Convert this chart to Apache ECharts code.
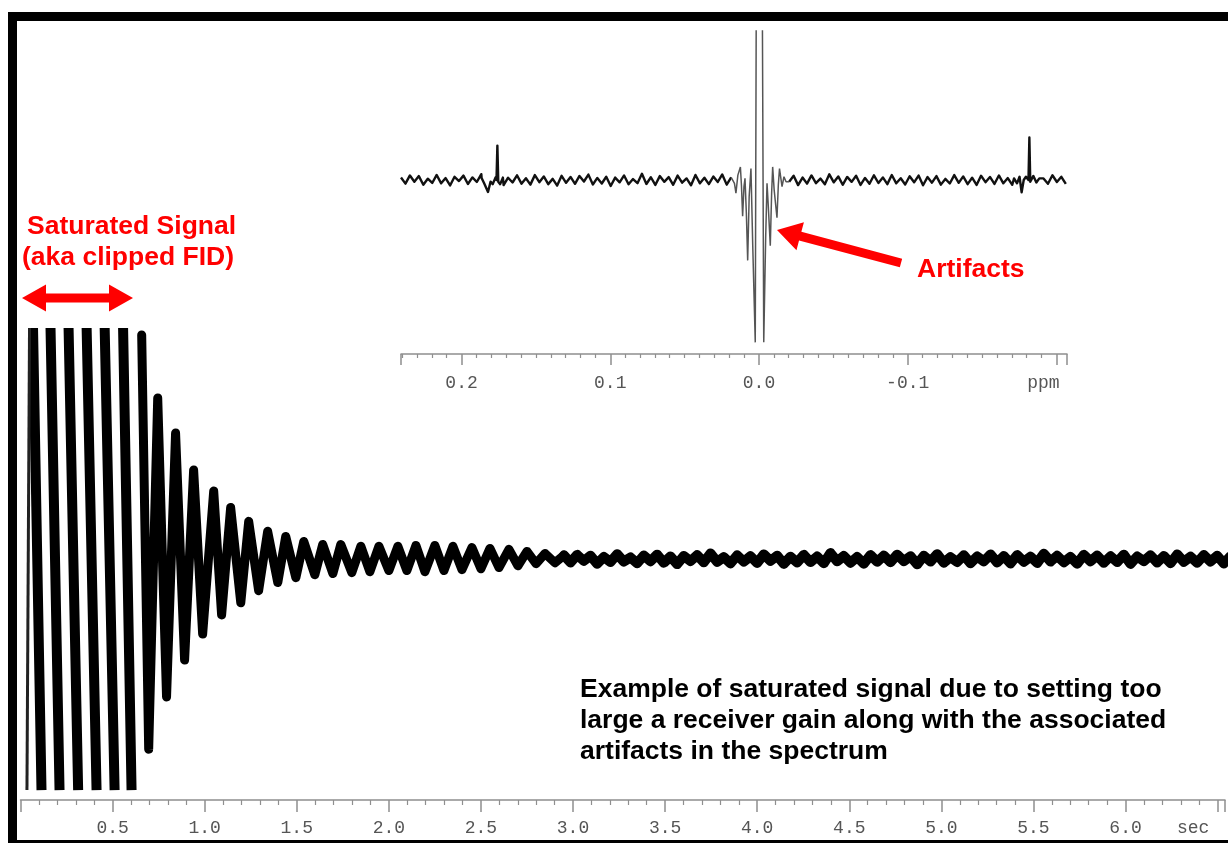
<!DOCTYPE html>
<html>
<head>
<meta charset="utf-8">
<title>Saturated FID</title>
<script src="https://cdn.jsdelivr.net/npm/echarts@6/dist/echarts.min.js"></script>
<style>
  html, body { margin: 0; padding: 0; background: #fff; }
  #chart { width: 1228px; height: 843px; }
</style>
</head>
<body>
<div id="chart"></div>
<script>
// ---- FID (main plot), time in sec, signal clipped at +/-1 ----
// saturated cycles: each one shows as a falling stroke from top to bottom
var clipTopTime = [0.068, 0.163, 0.261, 0.359, 0.457, 0.557];
var clipBottomTime = [0.114, 0.212, 0.313, 0.413, 0.511, 0.603];
var clipLevel = 1;
var startRiseTime = [0.035, 0.049];
var startRiseValue = [-1, 1];

// ringing after the receiver recovers: peaks and troughs
var ringTime = [0.658, 0.696, 0.745, 0.793, 0.842, 0.891, 0.940, 0.989, 1.049, 1.092,
  1.141, 1.196, 1.239, 1.293, 1.342, 1.397, 1.440, 1.495, 1.538, 1.598,
  1.641, 1.696, 1.739, 1.799, 1.848, 1.897, 1.946, 2.000, 2.049, 2.098,
  2.147, 2.196, 2.250, 2.299, 2.348, 2.397, 2.451, 2.500, 2.549, 2.598,
  2.652, 2.701, 2.750, 2.799, 2.848, 2.902, 2.951];
var ringValue = [0.97, -0.823, 0.697, -0.597, 0.545, -0.437, 0.385, -0.325, 0.294, -0.242,
  0.223, -0.189, 0.163, -0.137, 0.12, -0.102, 0.098, -0.081, 0.076, -0.068,
  0.063, -0.063, 0.063, -0.059, 0.055, -0.055, 0.055, -0.05, 0.055, -0.05,
  0.059, -0.055, 0.059, -0.05, 0.055, -0.046, 0.05, -0.042, 0.046, -0.037,
  0.042, -0.029, 0.033, -0.02, 0.024, -0.016, 0.016];

// noise tail of the FID
var tailStart = 2.95;
var tailStep = 0.0362;
var tailValue = [0.012, -0.015, 0.018, -0.008, 0.014, -0.02, 0.009, -0.013, 0.021, -0.011,
  0.007, -0.018, 0.015, -0.01, 0.019, -0.016, 0.011, -0.022, 0.013, -0.009,
  0.017, -0.014, 0.024, -0.012, 0.008, -0.019, 0.016, -0.011, 0.012, -0.017,
  0.02, -0.008, 0.014, -0.021, 0.01, -0.015, 0.018, -0.013, 0.011, -0.018,
  0.026, -0.01, 0.013, -0.016, 0.009, -0.02, 0.017, -0.012, 0.015, -0.014,
  0.019, -0.009, 0.012, -0.023, 0.014, -0.011, 0.021, -0.016, 0.008, -0.013,
  0.016, -0.018, 0.011, -0.01, 0.02, -0.015, 0.013, -0.019, 0.017, -0.012,
  0.01, -0.017, 0.023, -0.011, 0.014, -0.014, 0.009, -0.02, 0.018, -0.01,
  0.015, -0.016, 0.012, -0.013, 0.019, -0.021, 0.011, -0.009, 0.016, -0.015,
  0.013, -0.018, 0.02, -0.012, 0.01, -0.016, 0.017, -0.011, 0.014, -0.019, 0.012];

// ---- spectrum (inset), ppm ----
var specStart = 0.2407;
var specStep = 0.003;
var specNoise = [1.5, -2.2, 2.8, -1.0, 2.4, -2.9, 0.8, -1.8, 3.1, -2.0,
  1.2, -3.3, 2.0, -0.6, 2.7, -2.4, 1.6, -1.2, 3.6, -2.6,
  0.9, -2.0, 2.3, -3.1, 1.4, -1.5, 2.9, -2.2, 1.1, -2.8,
  3.0, -1.3, 2.2, -2.5, 0.7, -3.4, 2.6, -1.7, 1.9, -2.3,
  2.5, -0.9, 3.3, -2.7, 1.3, -2.1, 2.0, -3.6, 1.5, -1.4,
  2.8, -2.6, 0.6, -1.9, 3.8, -2.4, 1.7, -3.0, 2.4, -1.1,
  1.8, -2.9, 2.7, -1.6, 1.0, -3.2, 3.1, -2.0, 1.4, -2.5,
  2.1, -1.2, 3.4, -2.8, 1.6, -1.8, 2.5, -3.3, 0.8, -2.1,
  2.9, -2.4, 1.2, -1.5, 3.2, -2.7, 2.0, -1.0, 2.6, -3.1,
  1.5, -2.2, 2.8, -1.9, 0.9, -2.6, 3.5, -1.4, 2.2, -2.9,
  1.9, -1.1, 2.6, -3.0, 1.3, -2.3, 2.9, -1.8, 1.6, -2.5,
  3.1, -2.0, 1.1, -2.7, 2.3, -1.4, 2.7, -3.2, 1.8, -1.6,
  2.4, -2.8, 0.7, -2.1, 3.0, -1.7, 2.2, -2.5, 1.4, -3.0,
  2.6, -1.3, 1.9, -2.4, 2.8, -2.0, 1.2, -2.9, 3.3, -1.5,
  1.7, -2.6, 2.5, -1.8, 1.0, -2.3, 2.9, -1.2, 2.0, -2.4];

var leftPpm = [0.1865, 0.1848, 0.1835, 0.1822, 0.1805, 0.1790, 0.1772, 0.1765, 0.1759, 0.1753, 0.1740, 0.1722];
var leftValue = [1.2, -2.0, -3.0, -7.3, -1.0, -2.5, 1.5, 0, 21, -1, -2.5, 1.5];

var centerPpm = [0.0180, 0.0165, 0.0155, 0.0142, 0.0125, 0.0118, 0.0110, 0.0101, 0.0094, 0.0085,
  0.0076, 0.0066, 0.0054, 0.0042, 0.0025, 0.0009, -0.0009, -0.0032, -0.0045, -0.0054,
  -0.0062, -0.0076, -0.0085, -0.0092, -0.0102, -0.0121, -0.0130, -0.0138, -0.0155, -0.0168, -0.0182];
var centerValue = [1.5, -2, -8, 3, 8, -3, -22, -4, 1, -20,
  -49, -10, 7, -40, -99, 400, 400, -99, -35, -2,
  -15, -40, -8, 8, -6, -23, -3, 7, -4, 2, -1];

var rightPpm = [-0.1715, -0.1735, -0.1752, -0.1766, -0.1780, -0.1795, -0.1812, -0.1818, -0.1824, -0.1845, -0.1865, -0.1885];
var rightValue = [1, -2, 2, -7.5, 0, 2, 0, 26, -1, 2.5, -1.5, 1];

// ---- build the series data ----
var clipData = [];
for (var i = 0; i < clipTopTime.length; i++) {
  clipData.push([clipTopTime[i], clipLevel]);
  clipData.push([clipBottomTime[i], -clipLevel]);
  clipData.push([clipBottomTime[i], null]);
}
var riseData = startRiseTime.map(function (t, i) { return [t, startRiseValue[i]]; });

var ringData = ringTime.map(function (t, i) { return [t, ringValue[i]]; });

var tailData = [[ringTime[ringTime.length - 1], ringValue[ringValue.length - 1]]];
for (var i = 0; i < tailValue.length; i++) tailData.push([tailStart + i * tailStep, tailValue[i]]);

function inRange(p, arr) {
  return p <= Math.max.apply(null, arr) && p >= Math.min.apply(null, arr);
}
// baseline noise plus the two satellite lines (black), center line on its own (grey)
var specData = [];
for (var i = 0; i < specNoise.length; i++) {
  var p = specStart - i * specStep;
  if (!inRange(p, leftPpm) && !inRange(p, rightPpm)) specData.push([p, specNoise[i]]);
}
leftPpm.forEach(function (p, k) { specData.push([p, leftValue[k]]); });
rightPpm.forEach(function (p, k) { specData.push([p, rightValue[k]]); });
specData.sort(function (a, b) { return b[0] - a[0]; });

var centerData = [];
var noiseData = [];
var lastBefore = null, firstAfter = null;
specData.forEach(function (d) {
  if (inRange(d[0], centerPpm)) return;
  if (d[0] > centerPpm[0]) lastBefore = d;
  if (d[0] < centerPpm[centerPpm.length - 1] && !firstAfter) {
    firstAfter = d;
    noiseData.push([centerPpm[0], null]);
  }
  noiseData.push(d);
});
centerData.push(lastBefore);
centerPpm.forEach(function (p, k) { centerData.push([p, centerValue[k]]); });
centerData.push(firstAfter);

// ---- arrows (annotation shapes) ----
function arrowPoints(x1, y1, x2, y2, shaft, headLen, headW, both) {
  var dx = x2 - x1, dy = y2 - y1, L = Math.sqrt(dx * dx + dy * dy);
  var ux = dx / L, uy = dy / L, nx = -uy, ny = ux;
  function pt(x, y, along, side) { return [x + ux * along + nx * side, y + uy * along + ny * side]; }
  var pts = [];
  if (both) {
    pts.push([x1, y1]);
    pts.push(pt(x1, y1, headLen, headW / 2));
    pts.push(pt(x1, y1, headLen, shaft / 2));
  } else {
    pts.push(pt(x1, y1, 0, shaft / 2));
  }
  pts.push(pt(x2, y2, -headLen, shaft / 2));
  pts.push(pt(x2, y2, -headLen, headW / 2));
  pts.push([x2, y2]);
  pts.push(pt(x2, y2, -headLen, -headW / 2));
  pts.push(pt(x2, y2, -headLen, -shaft / 2));
  if (both) {
    pts.push(pt(x1, y1, headLen, -shaft / 2));
    pts.push(pt(x1, y1, headLen, -headW / 2));
  } else {
    pts.push(pt(x1, y1, 0, -shaft / 2));
  }
  return pts;
}

var axisGray = '#8f8f8f';
var labelFont = 'Liberation Mono';
var textFont = 'bold 26.5px "Liberation Sans", Arial, sans-serif';

function secLabel(v) {
  if (Math.abs(v * 2 - Math.round(v * 2)) > 1e-6) return '';
  if (v < 0.01) return '';
  if (Math.abs(v - 6.5) < 1e-6) return '{unit|sec}';
  return v.toFixed(1);
}
function ppmLabel(v) {
  if (Math.abs(v * 10 - Math.round(v * 10)) > 1e-6) return '';
  var r = Math.round(v * 10) / 10;
  if (Math.abs(r + 0.2) < 1e-6) return '{unit|ppm}';
  return (r === 0 ? 0 : r).toFixed(1);
}

var chart = echarts.init(document.getElementById('chart'));
var option = {
  animation: false,
  backgroundColor: '#fff',
  grid: [
    { left: 20.5, right: 0, top: 328, bottom: 43 },
    { left: 401, right: 161, top: 31, bottom: 489 }
  ],
  xAxis: [
    {
      gridIndex: 0, type: 'value', min: 0, max: 6.54, interval: 0.5,
      axisLine: { onZero: false, lineStyle: { color: axisGray, width: 1.5 } },
      axisTick: { length: 12, lineStyle: { color: axisGray, width: 1.5 } },
      minorTick: { show: true, splitNumber: 5, length: 5, lineStyle: { color: axisGray, width: 1.2 } },
      splitLine: { show: false },
      axisLabel: {
        margin: 19, color: '#555', fontFamily: labelFont, fontSize: 18, formatter: secLabel,
        rich: { unit: { color: '#555', fontFamily: labelFont, fontSize: 18, padding: [0, 49, 0, 0] } }
      }
    },
    {
      gridIndex: 1, type: 'value', inverse: true, min: -0.2071, max: 0.2407, splitNumber: 5,
      axisLine: { onZero: false, lineStyle: { color: axisGray, width: 1.5 } },
      axisTick: { length: 11, lineStyle: { color: axisGray, width: 1.5 } },
      minorTick: { show: true, splitNumber: 10, length: 4, lineStyle: { color: axisGray, width: 1.2 } },
      splitLine: { show: false },
      axisLabel: {
        margin: 20, color: '#555', fontFamily: labelFont, fontSize: 18, formatter: ppmLabel,
        rich: { unit: { color: '#555', fontFamily: labelFont, fontSize: 18, padding: [0, 26, 0, 0] } }
      }
    }
  ],
  yAxis: [
    { gridIndex: 0, type: 'value', min: -1.043, max: 1, show: false },
    { gridIndex: 1, type: 'value', min: -106.1, max: 90.9, show: false }
  ],
  series: [
    {
      name: 'saturated', type: 'line', xAxisIndex: 0, yAxisIndex: 0, data: clipData,
      showSymbol: false, connectNulls: false, clip: true,
      lineStyle: { color: '#000', width: 10 }
    },
    {
      name: 'start', type: 'line', xAxisIndex: 0, yAxisIndex: 0, data: riseData,
      showSymbol: false, clip: true, lineStyle: { color: '#222', width: 3 }
    },
    {
      name: 'ringing', type: 'line', xAxisIndex: 0, yAxisIndex: 0, data: ringData,
      showSymbol: false, clip: true, lineStyle: { color: '#000', width: 9, join: 'round', cap: 'round' }
    },
    {
      name: 'noise', type: 'line', xAxisIndex: 0, yAxisIndex: 0, data: tailData,
      showSymbol: false, clip: true, lineStyle: { color: '#000', width: 10, join: 'round', cap: 'round' }
    },
    {
      name: 'spectrum', type: 'line', xAxisIndex: 1, yAxisIndex: 1, data: noiseData,
      showSymbol: false, connectNulls: false, clip: true,
      lineStyle: { color: '#111', width: 2.4, join: 'round' }
    },
    {
      name: 'reference line', type: 'line', xAxisIndex: 1, yAxisIndex: 1, data: centerData,
      showSymbol: false, clip: true, lineStyle: { color: '#555', width: 1.5 }
    }
  ],
  graphic: [
    {
      type: 'rect', z: 100, silent: true,
      shape: { x: 12.5, y: 16.5, width: 1235, height: 828 },
      style: { fill: 'none', stroke: '#000', lineWidth: 9 }
    },
    {
      type: 'polygon', z: 100, silent: true,
      shape: { points: arrowPoints(22, 298, 133, 298, 9, 24, 27, true) },
      style: { fill: '#ff0000' }
    },
    {
      type: 'polygon', z: 100, silent: true,
      shape: { points: arrowPoints(901, 263, 777, 230, 9, 24, 29, false) },
      style: { fill: '#ff0000' }
    },
    {
      type: 'text', z: 100, silent: true, x: 27, y: 227,
      style: { text: 'Saturated Signal', fill: '#ff0000', font: textFont, verticalAlign: 'middle' }
    },
    {
      type: 'text', z: 100, silent: true, x: 22, y: 258,
      style: { text: '(aka clipped FID)', fill: '#ff0000', font: textFont, verticalAlign: 'middle' }
    },
    {
      type: 'text', z: 100, silent: true, x: 917, y: 270,
      style: { text: 'Artifacts', fill: '#ff0000', font: textFont, verticalAlign: 'middle' }
    },
    {
      type: 'text', z: 100, silent: true, x: 580, y: 674.5,
      style: {
        text: 'Example of saturated signal due to setting too\nlarge a receiver gain along with the associated\nartifacts in the spectrum',
        fill: '#000', font: textFont, lineHeight: 31, verticalAlign: 'top'
      }
    }
  ]
};
chart.setOption(option);
</script>
</body>
</html>
